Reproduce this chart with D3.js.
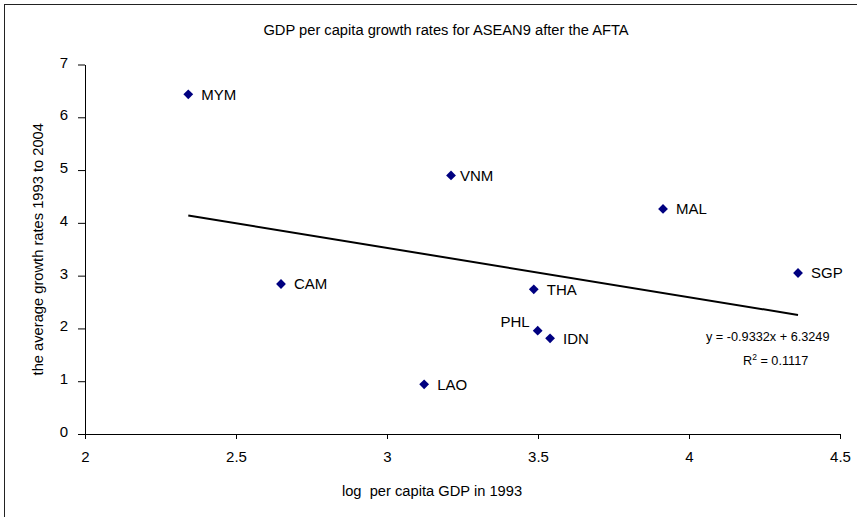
<!DOCTYPE html>
<html>
<head>
<meta charset="utf-8">
<script src="https://cdn.jsdelivr.net/npm/d3@7"></script>
<style>
  body { margin: 0; background: #fff; }
  text { font-family: "Liberation Sans", Arial, sans-serif; fill: #000; }
</style>
</head>
<body>
<svg id="chart" width="857" height="517"></svg>
<script>
// data
let countries = ["MYM", "VNM", "MAL", "SGP", "CAM", "THA", "PHL", "IDN", "LAO"];
let logGdp = [2.342, 3.212, 3.914, 4.361, 2.649, 3.486, 3.499, 3.540, 3.123];
let growth = [6.435, 4.898, 4.263, 3.050, 2.842, 2.741, 1.957, 1.813, 0.942];
let xTicks = [2, 2.5, 3, 3.5, 4, 4.5];
let yTicks = [0, 1, 2, 3, 4, 5, 6, 7];
let trend = {slope: -0.9332, intercept: 6.3249, r2: 0.1117};

let width = 857, height = 517;
let svg = d3.select("#chart");

let points = countries.map(function(c, i){ return {name: c, x: logGdp[i], y: growth[i]}; });

let x = d3.scaleLinear().domain([2, 4.5]).range([85, 840]);
let y = d3.scaleLinear().domain([0, 7]).range([434, 64.5]);

// outer frame
svg.append("rect")
  .attr("x", 4.5).attr("y", 4.5)
  .attr("width", 870).attr("height", 530)
  .style("fill", "none").style("stroke", "#222").style("stroke-width", 1);

svg.append("text")
  .attr("x", 446).attr("y", 35)
  .attr("text-anchor", "middle")
  .style("font-size", "14.7px")
  .text("GDP per capita growth rates for ASEAN9 after the AFTA");

let xAxis = svg.append("g")
  .attr("transform", "translate(0," + y(0) + ")")
  .call(d3.axisBottom(x).tickValues(xTicks).tickSize(5).tickSizeOuter(0).tickPadding(12).tickFormat(d3.format("")));
let yAxis = svg.append("g")
  .attr("transform", "translate(" + x(2) + ",0)")
  .call(d3.axisLeft(y).tickValues(yTicks).tickSize(7).tickSizeOuter(0).tickPadding(10).tickFormat(d3.format("d")));

[xAxis, yAxis].forEach(function(g){
  g.selectAll("text").style("font-size", "15px").style("font-family", "Liberation Sans, Arial, sans-serif").attr("fill", "#000");
  g.selectAll("line").attr("stroke", "#000");
  g.select(".domain").attr("stroke", "#000");
});
yAxis.selectAll("text").attr("dy", "0.17em");

svg.append("text")
  .attr("x", 432).attr("y", 496)
  .attr("text-anchor", "middle")
  .style("font-size", "14.7px")
  .text("log\u00a0 per capita GDP in 1993");

svg.append("text")
  .attr("transform", "translate(43," + (y(0) + y(7)) / 2 + ") rotate(-90)")
  .attr("text-anchor", "middle")
  .style("font-size", "14.7px")
  .text("the average growth rates 1993 to 2004");

// linear trend line across the data range
let xExt = d3.extent(logGdp);
svg.append("line")
  .attr("x1", x(xExt[0])).attr("y1", y(trend.slope * xExt[0] + trend.intercept))
  .attr("x2", x(xExt[1])).attr("y2", y(trend.slope * xExt[1] + trend.intercept))
  .style("stroke", "#000").style("stroke-width", 2);

svg.selectAll(".pt")
  .data(points)
  .enter()
  .append("path")
  .attr("class", "pt")
  .attr("d", d3.symbol().type(d3.symbolSquare).size(48))
  .attr("transform", d => "translate(" + x(d.x) + "," + y(d.y) + ") rotate(45)")
  .style("fill", "#000080");

svg.selectAll(".pt-label")
  .data(points)
  .enter()
  .append("text")
  .attr("class", "pt-label")
  .attr("x", d => d.name == "PHL" ? x(d.x) - 8 : x(d.x) + (d.name == "VNM" ? 9 : 13))
  .attr("y", d => d.name == "PHL" ? y(d.y) - 9 : y(d.y))
  .attr("dy", "0.35em")
  .attr("text-anchor", d => d.name == "PHL" ? "end" : "start")
  .style("font-size", "15px")
  .text(d => d.name);

svg.append("text")
  .attr("x", 706).attr("y", 341)
  .style("font-size", "12.7px")
  .text("y = " + trend.slope + "x + " + trend.intercept);

let r2 = svg.append("text")
  .attr("x", 743).attr("y", 365)
  .style("font-size", "12.7px");
r2.append("tspan").text("R");
r2.append("tspan").attr("dy", "-5").style("font-size", "8.5px").text("2");
r2.append("tspan").attr("dy", "5").text(" = " + trend.r2);
</script>
</body>
</html>
